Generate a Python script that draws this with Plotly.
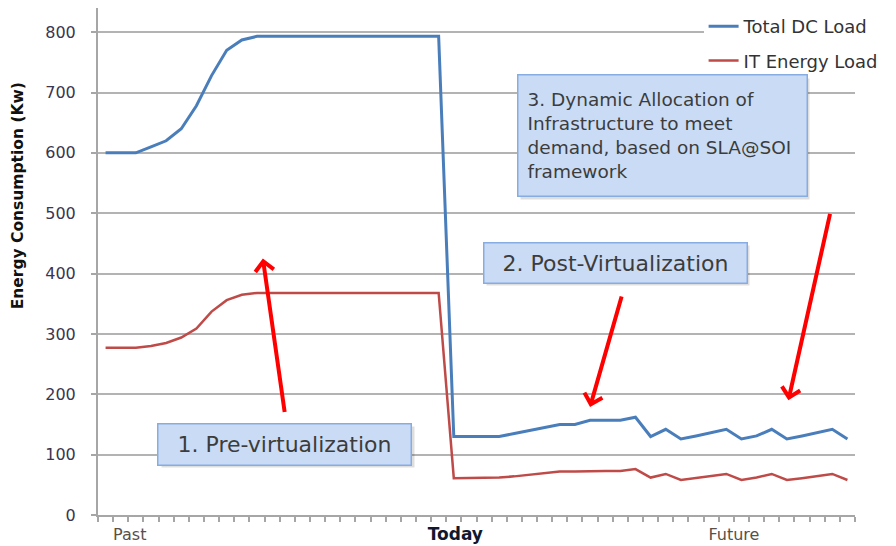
import plotly.graph_objects as go

# Series values (Kw), one per time step from Past through Today to Future
total_dc_load = [600, 600, 600, 610, 620, 640, 678, 728, 770, 787, 793,
                 793, 793, 793, 793, 793, 793, 793, 793, 793, 793, 793, 793,
                 130, 130, 130, 130, 135, 140, 145, 150, 150, 157, 157, 157,
                 162, 130, 142, 126, 131, 137, 142, 126, 131, 142, 126, 131,
                 137, 142, 126]
it_energy_load = [277, 277, 277, 280, 285, 294, 309, 337, 356, 365, 368,
                  368, 368, 368, 368, 368, 368, 368, 368, 368, 368, 368, 368,
                  61, 61, 62, 62, 64, 67, 70, 72, 72, 73, 73, 73,
                  76, 62, 68, 58, 61, 65, 68, 58, 62, 68, 58, 61,
                  65, 68, 58]
steps = list(range(len(total_dc_load)))

# Time labels along the x axis
time_tick_pos = [1.6, 23.1, 41.5]
time_tick_text = ["<span style='color:#5a5048'>Past</span>",
                  "<b><span style='font-size:17px;color:#101830'>Today</span></b>",
                  "<span style='color:#5a5048'>Future</span>"]

series_names = ["Total DC Load", "IT Energy Load"]
series_colors = ["#4a7ebb", "#be4b48"]

FONT = "DejaVu Sans"

fig = go.Figure()

fig.add_trace(go.Scatter(
    x=steps, y=total_dc_load, mode="lines", name=series_names[0],
    line=dict(color=series_colors[0], width=3), legendgroup="a"
))
fig.add_trace(go.Scatter(
    x=steps, y=it_energy_load, mode="lines", name=series_names[1],
    line=dict(color=series_colors[1], width=2.5), legendgroup="b"
))

# Callout boxes: shadow first, then the box itself
callouts = [
    dict(x=11.84, y=117, text="1. Pre-virtualization", w=248, h=36, pad=2,
         align="center", size=22),
    dict(x=33.65, y=418, text="2. Post-Virtualization", w=258, h=35, pad=2,
         align="center", size=22),
    dict(x=36.76, y=628,
         text="3. Dynamic Allocation of<br>Infrastructure to meet<br>demand, based on SLA@SOI<br>framework",
         w=270, h=102, pad=9, align="left", size=18.5),
]
for c in callouts:
    fig.add_annotation(
        x=c["x"], y=c["y"], text=" ", showarrow=False,
        width=c["w"], height=c["h"],
        xshift=3, yshift=-3,
        bgcolor="rgba(0,0,0,0.13)", borderpad=c["pad"]
    )
    fig.add_annotation(
        x=c["x"], y=c["y"], text=c["text"], showarrow=False,
        width=c["w"], height=c["h"], align=c["align"],
        font=dict(family=FONT, size=c["size"], color="#3c3c3c"),
        bgcolor="#cadcf5", bordercolor="#86ace2", borderwidth=1.5,
        borderpad=c["pad"]
    )

# Red arrows (head position in data units, tail offset in pixels)
arrows = [
    dict(x=10.39, y=425, ax=22, ay=155),
    dict(x=32.0, y=179, ax=32, ay=-112),
    dict(x=45.1, y=190, ax=42, ay=-188),
]
for a in arrows:
    fig.add_annotation(
        x=a["x"], y=a["y"], ax=a["ax"], ay=a["ay"], text="",
        showarrow=True, arrowhead=4, arrowsize=0.9, arrowwidth=4,
        arrowcolor="#ff0000"
    )

# Y axis title
fig.add_annotation(
    xref="paper", yref="paper", x=-0.106, y=0.63, xanchor="center",
    text="<b>Energy Consumption (Kw)</b>", textangle=-90, showarrow=False,
    font=dict(family=FONT, size=15.5, color="#111111")
)

fig.update_layout(
    width=896, height=546,
    margin=dict(l=90, r=49, t=0, b=39),
    plot_bgcolor="white", paper_bgcolor="white",
    font=dict(family=FONT, size=16, color="#3a3a3a"),
    legend=dict(
        x=0.8, y=1.0, xanchor="left", yanchor="top",
        bgcolor="white", tracegroupgap=8,
        font=dict(family=FONT, size=18, color="#333333")
    ),
)

fig.update_xaxes(
    range=[-0.5, 49.5], showgrid=False, zeroline=False, automargin=False,
    showline=True, linecolor="#a6a6a6", linewidth=2,
    tickmode="array", tickvals=time_tick_pos, ticktext=time_tick_text,
    ticks="", ticklabelstandoff=4,
    tickfont=dict(family=FONT, size=16),
    minor=dict(ticks="outside", ticklen=5, tickcolor="#a6a6a6", tickwidth=1.5,
               tick0=-0.5, dtick=1, showgrid=False)
)
fig.update_yaxes(
    range=[0, 840], dtick=100, showgrid=True, gridcolor="#b3b3b3", gridwidth=1.5,
    zeroline=False, showline=True, linecolor="#a6a6a6", linewidth=2,
    automargin=False,
    ticks="outside", ticklen=5, tickcolor="#a6a6a6", tickwidth=1.5,
    ticklabelstandoff=12,
    tickfont=dict(family=FONT, size=16, color="#3a3550")
)

fig.write_html("out.html")
